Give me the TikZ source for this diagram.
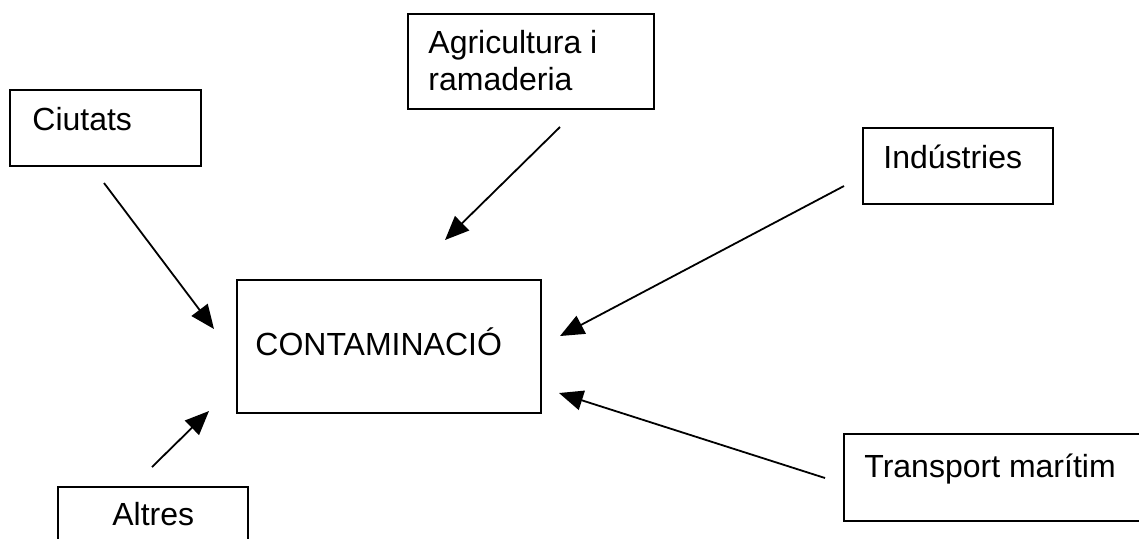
\documentclass[tikz,border=0pt]{standalone}
\usepackage{fontspec}
\setmainfont{Liberation Sans}
\usetikzlibrary{arrows.meta}

\tikzset{
	box/.style={draw, line width=1pt, anchor=north west, inner sep=0pt},
	boxtext/.style={anchor=base west, inner sep=0pt, align=left, font=\fontsize{16}{18.5}\selectfont},
	feed/.style={line width=0.9pt, -{Triangle[length=12pt, width=10pt]}}
}

\begin{document}
\begin{tikzpicture}[x=0.5pt, y=-0.5pt]

	\useasboundingbox (0, 0) rectangle (1139, 538);
	\clip (0, 0) rectangle (1139, 538);

	% Draw the boxes
	\node[box, minimum width=95.5pt, minimum height=38pt] (ciutats) at (9, 89) {};
	\node[box, minimum width=123pt, minimum height=47.5pt] (agri) at (407, 13) {};
	\node[box, minimum width=95pt, minimum height=38pt] (industries) at (862, 127) {};
	\node[box, minimum width=152pt, minimum height=66.5pt] (contam) at (236, 279) {};
	\node[box, minimum width=153.5pt, minimum height=43.5pt] (transport) at (843, 433) {};
	\node[box, minimum width=95pt, minimum height=42pt] (altres) at (57, 486) {};

	% Texts inside the boxes (base of a two-line text is its last line)
	\node[boxtext] (ciutatsT) at (32, 130) {Ciutats};
	\node[boxtext] (agriT) at (428, 90) {Agricultura i\\ramaderia};
	\node[boxtext] (industriesT) at (883, 168) {Indústries};
	\node[boxtext] (contamT) at (255, 355) {CONTAMINACIÓ};
	\node[boxtext] (transportT) at (864, 477) {Transport marítim};
	\node[boxtext] (altresT) at (112, 525) {Altres};

	% Arrow ends
	\coordinate (ciutatsA) at (104, 183);
	\coordinate (ciutatsB) at (214, 329);
	\coordinate (agriA) at (560, 127);
	\coordinate (agriB) at (445, 240);
	\coordinate (industriesA) at (844, 186);
	\coordinate (industriesB) at (560, 336);
	\coordinate (transportA) at (825, 478);
	\coordinate (transportB) at (559, 393);
	\coordinate (altresA) at (152, 467);
	\coordinate (altresB) at (209, 411);

	% Draw the arrows towards the centre box
	\draw[feed] (ciutatsA) -- (ciutatsB);
	\draw[feed] (agriA) -- (agriB);
	\draw[feed] (industriesA) -- (industriesB);
	\draw[feed] (transportA) -- (transportB);
	\draw[feed] (altresA) -- (altresB);

\end{tikzpicture}
\end{document}
